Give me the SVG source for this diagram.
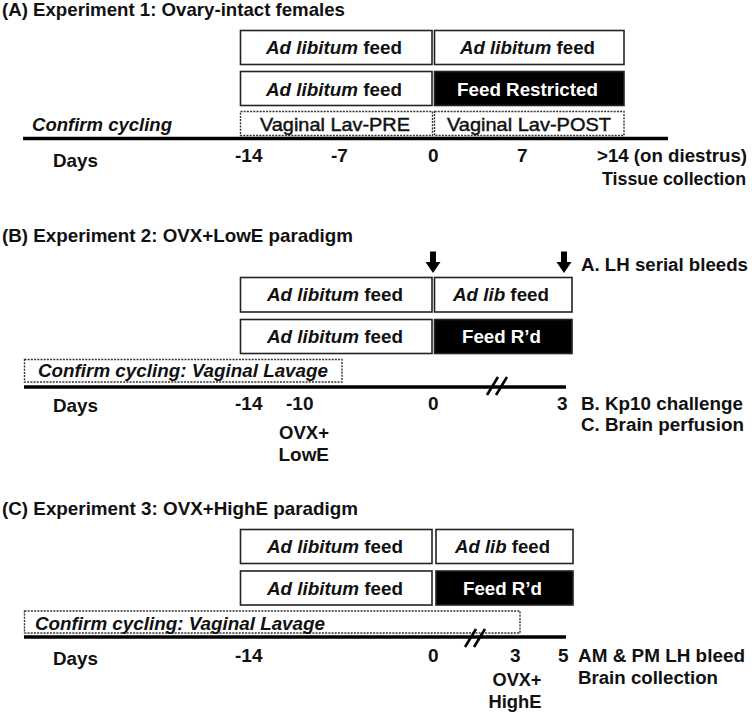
<svg xmlns="http://www.w3.org/2000/svg" width="752" height="713" viewBox="0 0 752 713">
<style>
.t{font-family:"Liberation Sans",Arial,sans-serif;font-size:19px;font-weight:bold;fill:#111}
.s{font-size:18px}
.n{font-weight:normal;stroke:#111;stroke-width:0.45}
.i{font-style:italic}
.w{fill:#fff}
.box{fill:#fff;stroke:#222;stroke-width:1.6}
.blk{fill:#000;stroke:#222;stroke-width:1.6}
.dash{fill:#fff;stroke:#333;stroke-width:1.4;stroke-dasharray:2 1.2}
.axis{stroke:#000;stroke-width:3.5}
.brk{stroke:#000;stroke-width:2.6;fill:none}
</style>
<defs>
<g id="dnArrow"><rect x="-3" y="0" width="6" height="11" fill="#000"/><polygon points="-7.5,10.5 7.5,10.5 0,21.5" fill="#000"/></g>
</defs>
<rect width="752" height="713" fill="#fff"/>

<!-- Section A -->
<g id="sectionA">
<text id="titleA" class="t" x="2" y="15.5" textLength="343" lengthAdjust="spacingAndGlyphs">(A) Experiment 1: Ovary-intact females</text>
<g id="A-row1-left"><rect class="box" x="240.5" y="30.5" width="191.5" height="34"/><text class="t" x="266" y="54" textLength="136" lengthAdjust="spacingAndGlyphs"><tspan class="i">Ad libitum</tspan> feed</text></g>
<g id="A-row1-right"><rect class="box" x="434.5" y="30.5" width="189.5" height="34"/><text class="t" x="460" y="54" textLength="135" lengthAdjust="spacingAndGlyphs"><tspan class="i">Ad libitum</tspan> feed</text></g>
<g id="A-row2-left"><rect class="box" x="240.5" y="71.5" width="191.5" height="34"/><text class="t" x="266" y="95.5" textLength="136" lengthAdjust="spacingAndGlyphs"><tspan class="i">Ad libitum</tspan> feed</text></g>
<g id="A-row2-right"><rect class="blk" x="434.5" y="71.5" width="189.5" height="34"/><text class="t w" x="457" y="95.5" textLength="141" lengthAdjust="spacingAndGlyphs">Feed Restricted</text></g>
<g id="A-lav-pre"><rect class="dash" x="240.5" y="111.5" width="192" height="24"/><text class="t n" x="260" y="131" textLength="150" lengthAdjust="spacingAndGlyphs">Vaginal Lav-PRE</text></g>
<g id="A-lav-post"><rect class="dash" x="434.5" y="111.5" width="189.5" height="24"/><text class="t n" x="447" y="131" textLength="164" lengthAdjust="spacingAndGlyphs">Vaginal Lav-POST</text></g>
<g id="A-confirm"><text class="t i" x="32" y="131" textLength="140" lengthAdjust="spacingAndGlyphs">Confirm cycling</text></g>
<g id="A-axis-labels">
<text class="t" x="53" y="167" textLength="45" lengthAdjust="spacingAndGlyphs">Days</text>
<text class="t" x="235" y="162">-14</text>
<text class="t" x="331" y="162">-7</text>
<text class="t" x="428" y="162">0</text>
<text class="t" x="517" y="162">7</text>
<text class="t s" x="597" y="162" textLength="150" lengthAdjust="spacingAndGlyphs">&gt;14 (on diestrus)</text>
<text class="t s" x="602" y="185" textLength="144" lengthAdjust="spacingAndGlyphs">Tissue collection</text>
</g>
</g>

<!-- Section B -->
<g id="sectionB">
<text id="titleB" class="t" x="2" y="241.5" textLength="351" lengthAdjust="spacingAndGlyphs">(B) Experiment 2: OVX+LowE paradigm</text>
<g id="B-row1-left"><rect class="box" x="240.5" y="277.5" width="191.5" height="34.5"/><text class="t" x="267" y="301" textLength="136" lengthAdjust="spacingAndGlyphs"><tspan class="i">Ad libitum</tspan> feed</text></g>
<g id="B-row1-right"><rect class="box" x="434.5" y="277.5" width="137.5" height="34.5"/><text class="t" x="453" y="301" textLength="96" lengthAdjust="spacingAndGlyphs"><tspan class="i">Ad lib</tspan> feed</text></g>
<g id="B-row2-left"><rect class="box" x="240.5" y="319.5" width="191.5" height="34"/><text class="t" x="267" y="343" textLength="136" lengthAdjust="spacingAndGlyphs"><tspan class="i">Ad libitum</tspan> feed</text></g>
<g id="B-row2-right"><rect class="blk" x="434.5" y="319.5" width="137.5" height="34"/><text class="t w" x="462" y="343" textLength="79" lengthAdjust="spacingAndGlyphs">Feed R’d</text></g>
<g id="B-confirm"><rect class="dash" x="24.5" y="359.5" width="317.5" height="22.5"/><text class="t i" x="38" y="377" textLength="290" lengthAdjust="spacingAndGlyphs">Confirm cycling:  Vaginal Lavage</text></g>
<g id="B-axis-labels">
<text class="t" x="53" y="412" textLength="45" lengthAdjust="spacingAndGlyphs">Days</text>
<text class="t" x="235" y="410">-14</text>
<text class="t" x="286" y="410">-10</text>
<text class="t" x="428" y="410">0</text>
<text class="t" x="557" y="410">3</text>
<text class="t" x="279" y="438.5" textLength="50" lengthAdjust="spacingAndGlyphs">OVX+</text>
<text class="t" x="278.5" y="460.5" textLength="50.5" lengthAdjust="spacingAndGlyphs">LowE</text>
</g>
<g id="B-outcomes">
<text class="t s" x="581" y="271" textLength="167" lengthAdjust="spacingAndGlyphs">A. LH serial bleeds</text>
<text class="t s" x="581" y="410" textLength="162" lengthAdjust="spacingAndGlyphs">B. Kp10 challenge</text>
<text class="t s" x="581" y="431" textLength="163" lengthAdjust="spacingAndGlyphs">C. Brain perfusion</text>
</g>
</g>

<!-- Section C -->
<g id="sectionC">
<text id="titleC" class="t" x="2" y="515" textLength="356" lengthAdjust="spacingAndGlyphs">(C) Experiment 3: OVX+HighE paradigm</text>
<g id="C-row1-left"><rect class="box" x="240.5" y="529.5" width="191.5" height="34"/><text class="t" x="267" y="553" textLength="136" lengthAdjust="spacingAndGlyphs"><tspan class="i">Ad libitum</tspan> feed</text></g>
<g id="C-row1-right"><rect class="box" x="436" y="529.5" width="137" height="34"/><text class="t" x="455" y="553" textLength="95" lengthAdjust="spacingAndGlyphs"><tspan class="i">Ad lib</tspan> feed</text></g>
<g id="C-row2-left"><rect class="box" x="240.5" y="571" width="191.5" height="34"/><text class="t" x="267" y="595" textLength="136" lengthAdjust="spacingAndGlyphs"><tspan class="i">Ad libitum</tspan> feed</text></g>
<g id="C-row2-right"><rect class="blk" x="436" y="571" width="137" height="34"/><text class="t w" x="463" y="595" textLength="79" lengthAdjust="spacingAndGlyphs">Feed R’d</text></g>
<g id="C-confirm"><rect class="dash" x="24.5" y="611" width="495.5" height="22"/><text class="t i" x="35" y="629.5" textLength="290" lengthAdjust="spacingAndGlyphs">Confirm cycling:  Vaginal Lavage</text></g>
<g id="C-axis-labels">
<text class="t" x="53" y="665" textLength="45" lengthAdjust="spacingAndGlyphs">Days</text>
<text class="t" x="235" y="662">-14</text>
<text class="t" x="428" y="662">0</text>
<text class="t" x="510" y="662">3</text>
<text class="t" x="558" y="662">5</text>
<text class="t" x="492.5" y="685.5" textLength="49" lengthAdjust="spacingAndGlyphs">OVX+</text>
<text class="t" x="488.5" y="708" textLength="53" lengthAdjust="spacingAndGlyphs">HighE</text>
</g>
<g id="C-outcomes">
<text class="t s" x="578" y="662" textLength="167" lengthAdjust="spacingAndGlyphs">AM &amp; PM LH bleed</text>
<text class="t s" x="578" y="683.5" textLength="140" lengthAdjust="spacingAndGlyphs">Brain collection</text>
</g>
</g>

<!-- Connectors: timelines, breaks and arrows -->
<g id="connectors">
<line class="axis" x1="23" y1="138.5" x2="668" y2="138.5"/>
<line class="axis" x1="24" y1="387" x2="566" y2="387"/>
<line class="axis" x1="24" y1="637" x2="566" y2="637"/>
<line class="brk" x1="487" y1="395" x2="498" y2="377"/>
<line class="brk" x1="496" y1="395" x2="507" y2="377"/>
<line class="brk" x1="465" y1="647" x2="476" y2="629"/>
<line class="brk" x1="474" y1="647" x2="485" y2="629"/>
<use href="#dnArrow" x="433" y="251.5"/>
<use href="#dnArrow" x="564" y="251.5"/>
</g>
</svg>
